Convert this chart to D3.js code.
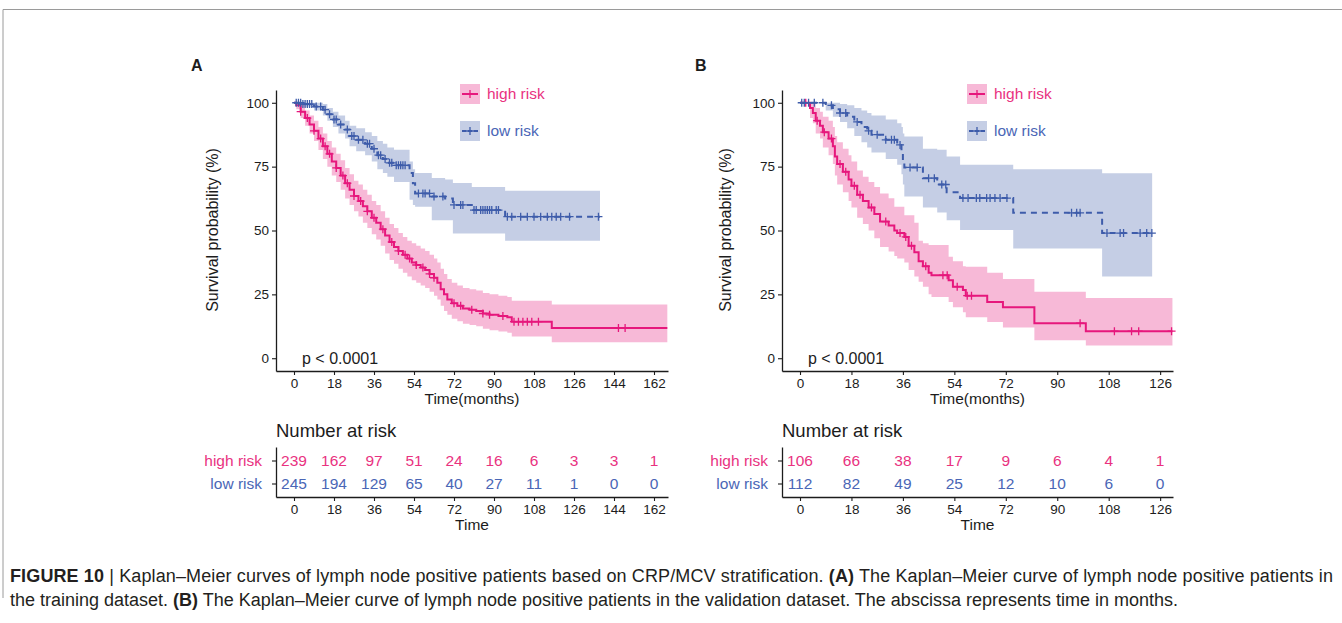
<!DOCTYPE html>
<html>
<head>
<meta charset="utf-8">
<script src="https://cdn.jsdelivr.net/npm/d3@7/dist/d3.min.js"></script>
<style>
  body { margin: 0; background: #fff; }
  text { font-family: "Liberation Sans", Arial, sans-serif; }
</style>
</head>
<body>
<svg id="fig" width="1342" height="623"></svg>
<script>
// ---- data ----
const groups = ['high risk', 'low risk']
const survTicks = [0, 25, 50, 75, 100]
const timeTicksA = [0, 18, 36, 54, 72, 90, 108, 126, 144, 162]
const timeTicksB = [0, 18, 36, 54, 72, 90, 108, 126]

const riskHighA = [239, 162, 97, 51, 24, 16, 6, 3, 3, 1]
const riskLowA = [245, 194, 129, 65, 40, 27, 11, 1, 0, 0]
const riskHighB = [106, 66, 38, 17, 9, 6, 4, 1]
const riskLowB = [112, 82, 49, 25, 12, 10, 6, 0]

// [time, survival %, lower CI, upper CI]
const kmHighA = [
  [0,100,100,100],[1,99,97.5,100],[3,96.5,94,99],[5,94,91,97],[7,91.5,88,95],[9,89,85,93],
  [11,86,81.5,90.5],[13,83,78,88],[15,80,75,85],[17,77,71.5,82.5],[19,74.5,69,80],[21,71.5,66,77.5],
  [23,68.5,62.5,74.5],[25,66,60,72],[27,63.5,57.5,69.5],[29,61.5,55.5,68],[31,59.5,53,66],[33,57.5,51,64],
  [35,55,48.5,61.5],[37,53,46.5,60],[39,50.5,44,57.5],[41,48,41,55],[43,45.5,38.5,52.5],[45,43.5,37,51],
  [47,42,35,49],[49,40.5,33.5,47.5],[51,39,32,46],[53,37.5,30.5,45],[55,36.5,29.5,44],[57,35.5,28.5,43],
  [59,34.5,27.5,42],[61,33,26,40.5],[63,31.5,24.5,39],[64.5,29.5,23,37.5],[66,27,20.5,35],[67.5,25,18.5,33],
  [69,23,17,31],[71,21.5,15.5,29.5],[73.5,20.5,14.5,28.5],[76,19.5,13.5,27.5],[79,19,13,27],[82,18.5,12.5,26.5],
  [85,17.5,11.5,25.5],[88,17,11,25],[92,16.5,10.5,24.5],[96,16,10,24],[98,14.3,8.5,22.5],[116,11.8,6.3,21],
  [168,11.8,6.3,21]
]
const censorHighA = [3,6,9,12,14,16,19,22,24,27,30,33,36,40,44,47,50,52,55,58,61,63,72,75,80,85,88,94,
  99,101,103,105,107,110,146,149]

const kmLowA = [
  [0,100,100,100],[4,99.5,98.5,100],[9,98.5,97,100],[13,97.3,95,99.5],[15,95.5,93,98],[17.5,93.5,90.5,96.5],
  [20,91.5,88,95],[23,89.5,86,93],[25,87,83,91],[28,85.5,81,90],[32,84,79.5,88.5],[35,82,77,87],
  [37.5,79.5,74,85],[40,78,72.5,84],[42,76.5,71,82.5],[45,75.5,69,81.6],[52,72.5,62,77],[53.5,68.5,60,74],
  [54.5,64.5,59.3,72.5],[62,63.3,54,70.6],[68,62.5,54,70],[71.5,60,48.8,68.6],[80,58,48.8,67],
  [95,55.4,46,65.6],[137.7,55.4,46,65.6]
]
const censorLowA = [1,2,3,4,5,6,7,8,10,12,14,16,18,19,21,24,26,27,29,31,33,34,36,38,39,41,43,44,46,47,48,
  49,50,56,58,59,61,63,67,72,75,76,81,82,84,85,86,87,88,89,91,92,96,98,102,105,108,111,114,116,118,120,124,137]

const kmHighB = [
  [0,100,100,100],[3.5,98,94,100],[4.5,96,92,100],[5.5,93,88,98],[7,91,86,96.5],[8,88.5,82.5,94.5],
  [10,86,79.5,93],[11.5,83,76,90.5],[12.2,79,71.5,87],[13,76,68,84.5],[15,73,65,82],[17,70,61.5,79.5],
  [18,67.5,59,77],[20,64,55,73.5],[22,61.5,52.5,71],[24,59,50,69],[26,56.5,47,67],[28,53.5,43.5,64.5],
  [31,52,41.8,62.6],[33,50,40,59.3],[34,49,39,59.3],[36.5,47.5,37.5,56],[38,44,34.5,56],[40,41.5,32,53],
  [41.5,38,29.9,46],[43,36,28,45],[45,33.5,25,44.3],[46,32.5,24,44.3],[52,30.5,22,39.7],[53.5,28,20,38],
  [57,26.7,18,36],[58,24.5,16,35.8],[65.5,22,14.2,33.5],[71,20,12,31],[82,13.7,7,26],[100,10.6,5,23.6],
  [130.3,10.6,5,23.6]
]
const censorHighB = [2,6,8.5,11,14,16,19,21,25,30,35,37,39,44,50,51.5,55,58.5,60,98,110,116,118.5,130]

const kmLowB = [
  [0,100,100,100],[9,99,97,100],[11.5,97.5,94.5,100],[14,96,92.5,99.5],[16.5,94.5,90,99],[19,92.5,87,98],
  [21.5,90.5,84.5,97],[23.5,89,82.5,96],[25,87.5,80.5,95],[30,85.5,78,93.5],[34,83.5,75.7,92],
  [35.5,80.5,72,90.5],[36,77.5,68,88],[36.5,74.7,63.3,86.8],[43,70.5,59,82],[48,68,57,81.6],
  [51.3,65,54,79],[56,62.7,50.2,75.7],[74.6,56.9,43,74],[105.7,49,32,72.4],[123.2,49,32,72.4]
]
const censorLowB = [0.6,1.5,3,5,8,11,14,16,20,24,27,30,32,33,35,38.5,41,45,47,49.6,51,57,58.8,61.7,62.9,
  65.3,66.5,68.2,70,72.4,95,96.8,98,107.4,112,113.2,119,121.3,123.1]

const highColor = '#E6177C'
const lowColor = '#3E5CAA'
const highText = '#E9327F'
const lowText = '#4A66B6'
const ink = '#1c1c1c'

// ---- drawing ----
let svg = d3.select('#fig')

// frame
svg.append('path').attr('d', 'M3,598V9.5H1342').attr('fill', 'none').attr('stroke', '#9a9a9a').attr('stroke-width', 1)

function stepValue(rows, t) {
    let v = rows[0][1]
    rows.forEach(function(r) { if (r[0] <= t) v = r[1] })
    return v
}

function styleAxis(ax, size) {
    ax.attr('font-family', '"Liberation Sans", Arial, sans-serif').attr('font-size', size)
    ax.select('.domain').attr('stroke', ink).attr('stroke-width', 1.3)
    ax.selectAll('.tick line').attr('stroke', ink).attr('stroke-width', 1.1)
    ax.selectAll('.tick text').attr('fill', ink)
}

function drawPanel(p) {
    let x = d3.scaleLinear().domain(p.xDomain).range(p.xRange)
    let y = d3.scaleLinear().domain([-5, 105]).range([371, 90])
    let g = svg.append('g')
    let mid = (p.xRange[0] + p.xRange[1]) / 2

    g.append('text').attr('x', p.letterX).attr('y', 71)
        .attr('font-weight', 'bold').attr('font-size', 16).attr('fill', ink).text(p.letter)

    let area = d3.area().curve(d3.curveStepAfter)
        .x(function(d) { return x(d[0]) })
        .y0(function(d) { return y(d[2]) })
        .y1(function(d) { return y(d[3]) })
    let line = d3.line().curve(d3.curveStepAfter)
        .x(function(d) { return x(d[0]) })
        .y(function(d) { return y(d[1]) })

    p.curves.forEach(function(c) {
        g.append('path').attr('d', area(c.rows)).attr('fill', c.color).attr('fill-opacity', 0.3)
    })

    p.curves.forEach(function(c) {
        g.append('path').attr('d', line(c.rows))
            .attr('fill', 'none').attr('stroke', c.color).attr('stroke-width', 2)
            .attr('stroke-dasharray', c.dash)
        g.selectAll(null).data(c.censor).enter().append('path')
            .attr('d', function(t) {
                let px = x(t), py = y(stepValue(c.rows, t))
                return 'M' + (px - 4) + ',' + py + 'H' + (px + 4) + 'M' + px + ',' + (py - 4) + 'V' + (py + 4)
            })
            .attr('stroke', c.color).attr('stroke-width', 1.3)
    })

    // axes
    let yAx = g.append('g').attr('transform', 'translate(' + p.xRange[0] + ',0)')
        .call(d3.axisLeft(y).tickValues(survTicks).tickSize(4).tickSizeOuter(0).tickPadding(3))
    styleAxis(yAx, 13.5)
    let xAx = g.append('g').attr('transform', 'translate(0,371)')
        .call(d3.axisBottom(x).tickValues(p.ticks).tickSize(4).tickSizeOuter(0).tickPadding(3))
    styleAxis(xAx, 13.5)

    g.append('text').attr('transform', 'translate(' + p.yLabelX + ',230) rotate(-90)')
        .attr('text-anchor', 'middle').attr('dy', '0.35em').attr('font-size', 16).attr('fill', ink)
        .text('Survival probability (%)')
    g.append('text').attr('x', mid).attr('y', 404).attr('text-anchor', 'middle')
        .attr('font-size', 15.5).attr('fill', ink).text('Time(months)')
    g.append('text').attr('x', x(0) + 8).attr('y', 364).attr('font-size', 16).attr('fill', ink)
        .text('p < 0.0001')

    // legend
    let leg = g.append('g').attr('transform', 'translate(' + p.legendX + ',0)')
    p.curves.forEach(function(c, i) {
        let cy = 94 + i * 37
        leg.append('rect').attr('x', 0).attr('y', cy - 10).attr('width', 20).attr('height', 20)
            .attr('fill', c.color).attr('fill-opacity', 0.3)
        leg.append('path').attr('d', 'M2,' + cy + 'H18').attr('stroke', c.color).attr('stroke-width', 2)
            .attr('stroke-dasharray', c.dash ? '4,2' : null)
        leg.append('path').attr('d', 'M6,' + cy + 'H14M10,' + (cy - 4) + 'V' + (cy + 4))
            .attr('stroke', c.color).attr('stroke-width', 1.3)
        leg.append('text').attr('x', 27).attr('y', cy).attr('dy', '0.35em')
            .attr('font-size', 15.5).attr('fill', c.textColor).text(c.name)
    })

    // number at risk table
    g.append('text').attr('x', p.xRange[0]).attr('y', 437).attr('font-size', 18.5).attr('fill', ink)
        .text('Number at risk')
    let ry = d3.scalePoint().domain(groups).range([447, 497]).padding(0.587)
    let tyAx = g.append('g').attr('transform', 'translate(' + p.xRange[0] + ',0)')
        .call(d3.axisLeft(ry).tickSize(4).tickSizeOuter(0).tickPadding(10))
    styleAxis(tyAx, 15.5)
    tyAx.selectAll('.tick text').attr('fill', function(d, i) { return p.curves[i].textColor })
    let txAx = g.append('g').attr('transform', 'translate(0,497)')
        .call(d3.axisBottom(x).tickValues(p.ticks).tickSize(4).tickSizeOuter(0).tickPadding(3))
    styleAxis(txAx, 13.5)

    p.curves.forEach(function(c) {
        g.selectAll(null).data(c.risk).enter().append('text')
            .attr('x', function(d, i) { return x(p.ticks[i]) })
            .attr('y', ry(c.name)).attr('dy', '0.35em')
            .attr('text-anchor', 'middle').attr('font-size', 15.5).attr('fill', c.textColor)
            .text(function(d) { return d })
    })
    g.append('text').attr('x', mid).attr('y', 530).attr('text-anchor', 'middle')
        .attr('font-size', 15.5).attr('fill', ink).text('Time')
}

drawPanel({
    letter: 'A', letterX: 191, xDomain: [-8.1, 168.3], xRange: [276, 668], ticks: timeTicksA,
    yLabelX: 212, legendX: 460,
    curves: [
        { name: groups[0], rows: kmHighA, censor: censorHighA, risk: riskHighA, color: highColor, textColor: highText, dash: null },
        { name: groups[1], rows: kmLowA, censor: censorLowA, risk: riskLowA, color: lowColor, textColor: lowText, dash: '6,5' }
    ]
})

drawPanel({
    letter: 'B', letterX: 695, xDomain: [-6.3, 130.5], xRange: [782, 1173], ticks: timeTicksB,
    yLabelX: 725, legendX: 967,
    curves: [
        { name: groups[0], rows: kmHighB, censor: censorHighB, risk: riskHighB, color: highColor, textColor: highText, dash: null },
        { name: groups[1], rows: kmLowB, censor: censorLowB, risk: riskLowB, color: lowColor, textColor: lowText, dash: '6,5' }
    ]
})

// caption
let cap = svg.append('g').attr('font-size', 18).attr('fill', '#231f20')
let l1 = cap.append('text').attr('x', 10).attr('y', 582)
    .attr('textLength', 1323).attr('lengthAdjust', 'spacing')
l1.append('tspan').attr('font-weight', 'bold').text('FIGURE 10')
l1.append('tspan').text(' | Kaplan–Meier curves of lymph node positive patients based on CRP/MCV stratification. ')
l1.append('tspan').attr('font-weight', 'bold').text('(A)')
l1.append('tspan').text(' The Kaplan–Meier curve of lymph node positive patients in')
let l2 = cap.append('text').attr('x', 10).attr('y', 606)
l2.append('tspan').text('the training dataset. ')
l2.append('tspan').attr('font-weight', 'bold').text('(B)')
l2.append('tspan').text(' The Kaplan–Meier curve of lymph node positive patients in the validation dataset. The abscissa represents time in months.')
</script>
</body>
</html>
